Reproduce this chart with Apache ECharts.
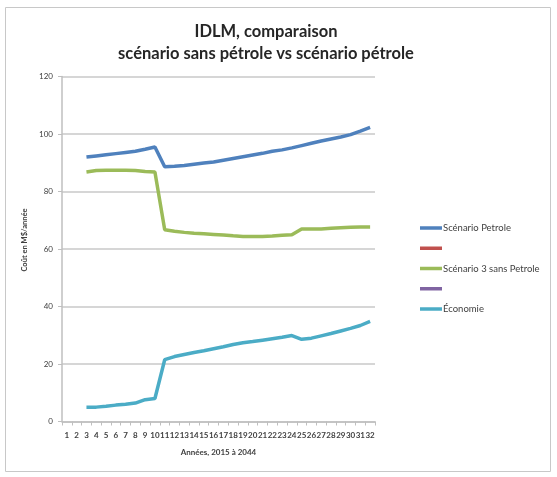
<!DOCTYPE html>
<html>
<head>
<meta charset="utf-8">
<script src="https://cdn.jsdelivr.net/npm/echarts@6/dist/echarts.min.js"></script>
<style>html,body{margin:0;padding:0;background:#fff}#c{width:557px;height:477px}</style>
</head>
<body>
<div id="c"></div>
<script>
const categories = ['1','2','3','4','5','6','7','8','9','10','11','12','13','14','15','16','17','18','19','20','21','22','23','24','25','26','27','28','29','30','31','32'];
const scenarioPetrole = [null,null,92.0,92.4,92.8,93.2,93.6,94.0,94.7,95.5,88.6,88.8,89.1,89.5,89.9,90.3,90.9,91.5,92.1,92.7,93.3,94.0,94.5,95.2,96.0,96.8,97.6,98.3,99.0,99.8,101.0,102.3];
const serieRouge = [];
const scenario3SansPetrole = [null,null,86.8,87.3,87.4,87.4,87.4,87.3,87.0,86.8,66.7,66.2,65.8,65.5,65.3,65.1,64.9,64.6,64.4,64.4,64.4,64.5,64.8,65.0,67.0,67.0,67.0,67.2,67.4,67.6,67.7,67.7];
const seriePourpre = [];
const economie = [null,null,5.0,5.0,5.3,5.7,6.0,6.4,7.6,8.0,21.5,22.6,23.3,24.0,24.6,25.3,26.0,26.8,27.4,27.8,28.3,28.8,29.3,29.9,28.6,29.0,29.8,30.6,31.5,32.4,33.4,34.8];
const yTicks = [0,20,40,60,80,100,120];

const blanks = {'\u200b':1,'\u200b\u200b':1};
const chart = echarts.init(document.getElementById('c'), null, {renderer:'canvas'});
const lineW = 3.5;
chart.setOption({
  backgroundColor:'#fff',
  animation:false,
  title:{
    text:'IDLM, comparaison\nscénario sans pétrole vs scénario pétrole',
    left:261, top:16, textAlign:'center',
    textStyle:{fontFamily:'Lato', fontWeight:'bold', fontSize:16.5, lineHeight:22, color:'#262626'}
  },
  graphic:[{type:'rect', shape:{x:5.5,y:7.5,width:545,height:464}, style:{fill:'none', stroke:'#c8c8c8', lineWidth:1}, z:-1}],
  legend:{
    orient:'vertical', left:415, top:218, itemWidth:22, itemHeight:3.5, itemGap:13.5,
    icon:'rect',
    data:['Scénario Petrole','\u200b','Scénario 3 sans Petrole','\u200b\u200b','Économie'],
    formatter: n => blanks[n] ? '' : n,
    textStyle:{fontFamily:'Lato', fontSize:9.5, color:'#404040', padding:[0,0,0,-4]}
  },
  grid:{left:62, right:182, top:76.6, bottom:55.5},
  xAxis:{
    type:'category', data:categories, boundaryGap:true,
    name:'Années, 2015 à 2044', nameLocation:'middle', nameGap:27,
    nameTextStyle:{fontFamily:'Lato', fontWeight:'bold', fontSize:8, color:'#404040'},
    axisLine:{lineStyle:{color:'#bfbfbf', width:1.5}},
    axisTick:{show:true, alignWithLabel:false, length:4, lineStyle:{color:'#bfbfbf'}},
    axisLabel:{interval:0, margin:10, fontFamily:'Lato', fontWeight:'bold', fontSize:8, color:'#404040'}
  },
  yAxis:{
    type:'value', min:0, max:120, interval:20,
    name:'Coût en M$/année', nameLocation:'middle', nameGap:30,
    nameTextStyle:{fontFamily:'Lato', fontWeight:'bold', fontSize:7.5, color:'#404040', padding:[0,0,0,18]},
    axisLine:{show:true, lineStyle:{color:'#bfbfbf', width:1.5}},
    axisTick:{show:true, length:4, lineStyle:{color:'#bfbfbf'}},
    splitLine:{lineStyle:{color:'#c8c8c8', width:1.5}},
    axisLabel:{margin:9, fontFamily:'Lato', fontSize:8, color:'#404040', formatter: v => yTicks.includes(v) ? String(v) : ''}
  },
  series:[
    {name:'Scénario Petrole', type:'line', data:scenarioPetrole, showSymbol:false, lineStyle:{width:lineW, color:'#4F81BD'}, itemStyle:{color:'#4F81BD'}},
    {name:'\u200b', type:'line', data:serieRouge, showSymbol:false, lineStyle:{width:lineW, color:'#C0504D'}, itemStyle:{color:'#C0504D'}},
    {name:'Scénario 3 sans Petrole', type:'line', data:scenario3SansPetrole, showSymbol:false, lineStyle:{width:lineW, color:'#9BBB59'}, itemStyle:{color:'#9BBB59'}},
    {name:'\u200b\u200b', type:'line', data:seriePourpre, showSymbol:false, lineStyle:{width:lineW, color:'#8064A2'}, itemStyle:{color:'#8064A2'}},
    {name:'Économie', type:'line', data:economie, showSymbol:false, lineStyle:{width:lineW, color:'#4BACC6'}, itemStyle:{color:'#4BACC6'}}
  ]
});
</script>
</body>
</html>
